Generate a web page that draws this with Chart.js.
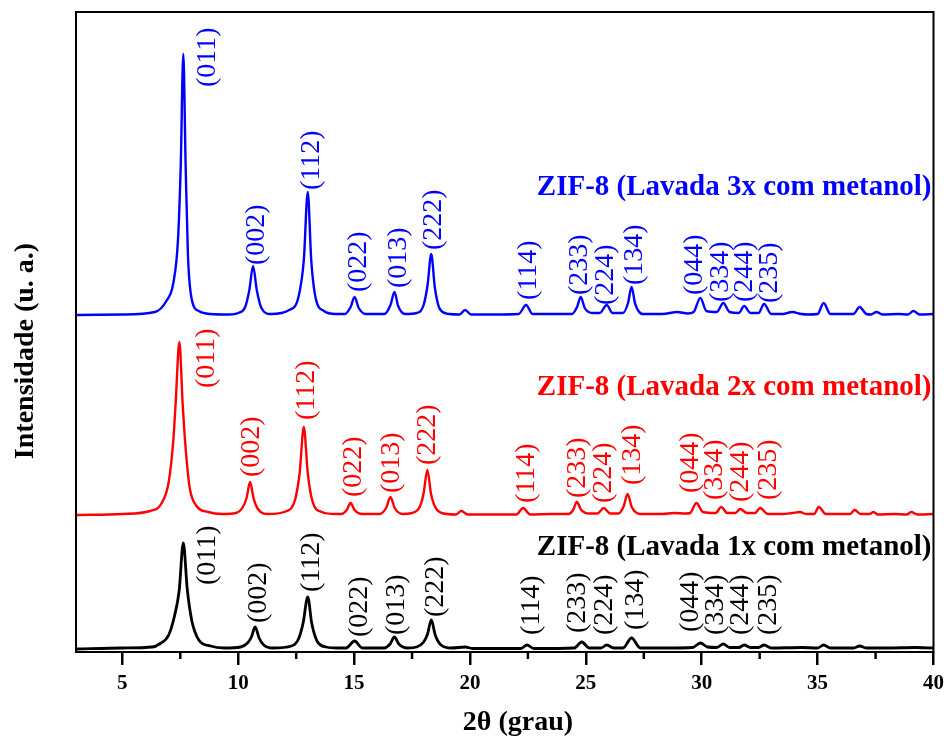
<!DOCTYPE html>
<html>
<head>
<meta charset="utf-8">
<title>ZIF-8 DRX</title>
<script src="https://cdn.jsdelivr.net/npm/chart.js@4.4.1/dist/chart.umd.min.js"></script>
<style>
  html, body { margin: 0; padding: 0; background: #fff; }
  #wrap { width: 950px; height: 736px; }
</style>
</head>
<body>
<div id="wrap"><canvas id="xrd" width="950" height="736"></canvas></div>
<script>
// Difratogramas: [2θ (grau), intensidade acima da linha de base (u. a.)]
const lavada1x = [
  [3, 0], [5, 1], [6.3, 2], [6.6, 5], [7.0, 14], [7.25, 33], [7.45, 58], [7.63, 106], [7.8, 60], [8.0, 28], [8.3, 9], [8.8, 3], [9.4, 1],
  [10.1, 2], [10.4, 6], [10.57, 12], [10.73, 22], [10.9, 11], [11.1, 4], [11.5, 1],
  [12.3, 3], [12.6, 10], [12.8, 26], [13.0, 52], [13.17, 26], [13.4, 8], [13.8, 2], [14.3, 1],
  [14.65, 1], [15.02, 8], [15.35, 1],
  [16.3, 1], [16.55, 5], [16.74, 12], [16.93, 5], [17.3, 1],
  [17.7, 2], [18.0, 7], [18.17, 15], [18.33, 29], [18.5, 14], [18.75, 4], [19.2, 1],
  [19.8, 2], [20.1, 0.5],
  [22.2, 0.5], [22.46, 4], [22.75, 0.5],
  [24.5, 1], [24.82, 7], [25.15, 1],
  [25.65, 1], [25.9, 4], [26.2, 1],
  [26.6, 1], [26.97, 11], [27.35, 1],
  [28.5, 1], [29.6, 1.5], [29.94, 6], [30.25, 2],
  [30.65, 1.5], [30.93, 5], [31.2, 1.5],
  [31.6, 1.5], [31.83, 4], [32.1, 1.5],
  [32.45, 1.5], [32.69, 4], [33.0, 1],
  [34.3, 1.5], [35.0, 1], [35.26, 4], [35.55, 1],
  [36.55, 1], [36.81, 3], [37.1, 1], [38, 1], [39.2, 1.5], [40, 1]
];

const lavada2x = [
  [3, 0], [5, 1], [6.2, 4], [6.7, 12], [7.0, 33], [7.2, 75], [7.3, 112], [7.46, 173], [7.6, 112], [7.72, 70], [7.9, 28], [8.2, 9], [8.7, 3], [9.3, 1],
  [9.9, 2], [10.2, 8], [10.36, 17], [10.51, 33], [10.67, 16], [10.85, 6], [11.3, 1],
  [12.1, 4], [12.45, 15], [12.65, 42], [12.83, 88], [13.0, 42], [13.2, 14], [13.6, 3], [14.2, 1],
  [14.45, 1], [14.68, 5], [14.85, 12], [15.02, 5], [15.35, 1],
  [16.1, 1], [16.38, 7], [16.57, 18], [16.75, 7], [17.1, 1],
  [17.5, 2], [17.85, 9], [18.0, 22], [18.16, 45], [18.32, 21], [18.55, 6], [19.0, 1],
  [19.4, 0.5], [19.62, 4], [19.9, 0.5], [21, 0.5],
  [22.0, 0.5], [22.29, 7], [22.6, 0.5], [23.5, 1],
  [24.25, 1], [24.45, 5], [24.61, 13], [24.8, 5], [25.15, 1.5],
  [25.5, 1.5], [25.77, 7], [26.05, 1.5],
  [26.4, 1.5], [26.62, 8], [26.8, 21], [26.98, 8], [27.35, 1],
  [28.3, 1], [28.8, 2], [29.3, 1.5],
  [29.5, 2], [29.77, 12], [30.05, 3],
  [30.6, 2], [30.84, 8], [31.1, 2],
  [31.45, 2], [31.66, 6], [31.95, 2],
  [32.3, 2], [32.52, 7], [32.85, 1],
  [33.5, 1], [33.9, 2], [34.24, 3], [34.5, 1],
  [34.85, 1], [35.05, 8], [35.35, 1],
  [36.0, 1], [36.4, 1], [36.6, 5], [36.85, 1],
  [37.25, 1], [37.41, 3], [37.6, 0.5],
  [38.3, 1], [38.85, 0.5], [39.04, 3], [39.3, 0.5], [40, 1]
];

const lavada3x = [
  [3, 0], [5, 0.5], [6.4, 3], [6.9, 14], [7.2, 32], [7.4, 75], [7.52, 150], [7.63, 261], [7.73, 150], [7.83, 60], [8.0, 15], [8.3, 4], [8.8, 1], [9.6, 0.5],
  [10.0, 2], [10.3, 8], [10.48, 25], [10.64, 49], [10.8, 25], [11.0, 7], [11.4, 1],
  [12.2, 5], [12.6, 18], [12.83, 55], [13.0, 123], [13.15, 55], [13.35, 16], [13.7, 4], [14.2, 1],
  [14.6, 1], [14.85, 8], [15.02, 18], [15.2, 7], [15.5, 1],
  [16.3, 1], [16.57, 10], [16.74, 23], [16.9, 9], [17.2, 1],
  [17.7, 2], [18.0, 10], [18.17, 30], [18.33, 61], [18.48, 28], [18.7, 6], [19.1, 1],
  [19.55, 0.5], [19.79, 5], [20.05, 0.5], [21.0, 0.5],
  [22.1, 1], [22.42, 10], [22.7, 1], [23.5, 1],
  [24.4, 1], [24.62, 8], [24.78, 18], [24.95, 7], [25.3, 2],
  [25.6, 2], [25.9, 10], [26.15, 2],
  [26.6, 2], [26.82, 12], [26.97, 28], [27.13, 11], [27.45, 1],
  [28.3, 1], [28.95, 3], [29.4, 1.5],
  [29.65, 3], [29.94, 17], [30.2, 4],
  [30.65, 3], [30.93, 12], [31.2, 3],
  [31.6, 2], [31.83, 9], [32.1, 2],
  [32.45, 2], [32.69, 11], [33.0, 1],
  [33.5, 1], [33.9, 3], [34.3, 1], [34.6, 0.5],
  [35.0, 1], [35.26, 12], [35.55, 1],
  [36.2, 1], [36.55, 1], [36.81, 8], [37.1, 1],
  [37.3, 0.5], [37.54, 3], [37.8, 0.5],
  [38.5, 1], [38.9, 0.5], [39.13, 4], [39.4, 0.5], [40, 1]
];

// deslocamento vertical de cada curva (empilhamento)
const offsets = [3, 137, 337];
const seriesNames = ['ZIF-8 (Lavada 1x com metanol)', 'ZIF-8 (Lavada 2x com metanol)', 'ZIF-8 (Lavada 3x com metanol)'];
const seriesColors = ['#000000', '#ff0000', '#0000ff'];

// índices de Miller e onde o texto começa (2θ, intensidade)
const hkl = ['(011)', '(002)', '(112)', '(022)', '(013)', '(222)', '(114)', '(233)', '(224)', '(134)', '(044)', '(334)', '(244)', '(235)'];
const hklX1x = [8.66, 10.90, 13.17, 15.24, 16.83, 18.50, 22.64, 24.65, 25.81, 27.15, 29.51, 30.59, 31.66, 32.90];
const hklY1x = [67, 29, 60, 15, 17, 35, 17, 19, 17, 22, 20, 17, 17, 17];
const hklX2x = [8.62, 10.60, 12.96, 14.98, 16.61, 18.16, 22.46, 24.65, 25.77, 27.02, 29.51, 30.54, 31.66, 32.90];
const hklY2x = [264, 175, 232, 155, 159, 187, 149, 154, 149, 167, 159, 152, 150, 152];
const hklX3x = [8.66, 10.81, 13.17, 15.20, 16.92, 18.42, 22.51, 24.74, 25.86, 27.11, 29.68, 30.80, 31.83, 32.95];
const hklY3x = [565, 387, 462, 360, 364, 402, 352, 357, 347, 367, 357, 350, 350, 349];
const nameY = [97, 257, 457];

const minorTicks = [7.5, 12.5, 17.5, 22.5, 27.5, 32.5, 37.5];

const FONT = "'Liberation Serif', 'Times New Roman', serif";

const curves = [lavada1x, lavada2x, lavada3x];
const hklPos = [[hklX1x, hklY1x], [hklX2x, hklY2x], [hklX3x, hklY3x]];

const datasets = curves.map((c, i) => ({
    label: seriesNames[i],
    data: c.map(p => ({ x: p[0], y: p[1] + offsets[i] })),
    borderColor: seriesColors[i],
    borderWidth: i === 0 ? 2.8 : 2.4,
    pointRadius: 0,
    cubicInterpolationMode: 'monotone',
    fill: false
}));

// Rótulos, moldura, ticks menores e títulos dos eixos
const decorations = {
    id: 'decorations',
    afterDatasetsDraw(chart) {
        const { ctx, chartArea: a, scales: { x, y } } = chart;
        ctx.save();

        // ticks menores
        ctx.strokeStyle = '#000';
        ctx.lineWidth = 2.5;
        minorTicks.forEach(v => {
            const px = x.getPixelForValue(v);
            ctx.beginPath();
            ctx.moveTo(px, a.bottom);
            ctx.lineTo(px, a.bottom + 7);
            ctx.stroke();
        });

        // moldura
        ctx.lineWidth = 2;
        ctx.strokeRect(a.left, a.top, a.right - a.left, a.bottom - a.top);

        // índices de Miller
        ctx.font = '28px ' + FONT;
        ctx.textAlign = 'left';
        ctx.textBaseline = 'middle';
        hklPos.forEach((pos, s) => {
            ctx.fillStyle = seriesColors[s];
            pos[0].forEach((v, i) => {
                ctx.save();
                ctx.translate(x.getPixelForValue(v), y.getPixelForValue(pos[1][i]));
                ctx.rotate(-Math.PI / 2);
                ctx.fillText(hkl[i], 0, 0);
                ctx.restore();
            });
        });

        // nomes das amostras
        ctx.font = 'bold 29px ' + FONT;
        ctx.textAlign = 'right';
        ctx.textBaseline = 'alphabetic';
        seriesNames.forEach((n, i) => {
            ctx.fillStyle = seriesColors[i];
            ctx.fillText(n, a.right - 2, y.getPixelForValue(nameY[i]));
        });

        // títulos dos eixos
        ctx.fillStyle = '#000';
        ctx.font = 'bold 28px ' + FONT;
        ctx.textAlign = 'center';
        ctx.fillText('2θ (grau)', 518, 730);
        ctx.save();
        ctx.translate(33, 351);
        ctx.rotate(-Math.PI / 2);
        ctx.fillText('Intensidade (u. a.)', 0, 0);
        ctx.restore();

        ctx.restore();
    }
};

new Chart(document.getElementById('xrd').getContext('2d'), {
    type: 'line',
    data: { datasets: datasets },
    options: {
        responsive: false,
        animation: false,
        layout: { padding: { left: 76, right: 13, top: 12, bottom: 0 } },
        plugins: {
            legend: { display: false },
            tooltip: { enabled: false }
        },
        scales: {
            x: {
                type: 'linear',
                min: 3,
                max: 40,
                afterFit(scale) { scale.height = 84; },
                border: { display: false },
                grid: {
                    drawOnChartArea: false,
                    drawTicks: true,
                    tickLength: 13,
                    color: '#000',
                    lineWidth: 2.5
                },
                ticks: {
                    stepSize: 5,
                    includeBounds: false,
                    maxRotation: 0,
                    padding: 6,
                    color: '#000',
                    font: { family: FONT, size: 21, weight: 'bold' }
                }
            },
            y: {
                display: false,
                min: 0,
                max: 640
            }
        }
    },
    plugins: [decorations]
});
</script>
</body>
</html>
